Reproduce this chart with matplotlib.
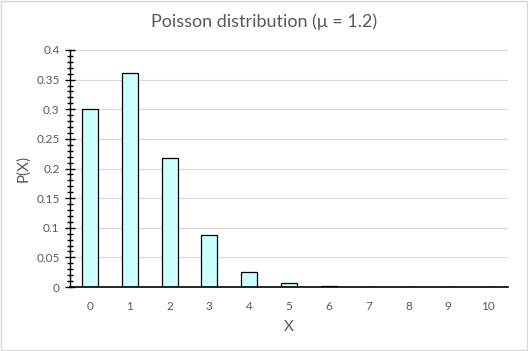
import matplotlib.pyplot as plt
from matplotlib.patches import Rectangle
from matplotlib.ticker import MultipleLocator, FuncFormatter

plt.rcParams["font.family"] = ["Lato", "DejaVu Sans"]

x_values = list(range(11))
probs = [0.301, 0.361, 0.217, 0.087, 0.026, 0.0062, 0.0012, 0.0002, 0.00003, 0.000004, 0.0000005]
title = "Poisson distribution (\u03bc = 1.2)"

GRAY = "#595959"

fig = plt.figure(figsize=(5.28, 3.51), dpi=100)
ax = fig.add_axes([70 / 528, 1 - 287 / 351, 438 / 528, 237 / 351])

ax.bar(x_values, probs, width=0.4, color="#CCFFFF", edgecolor="black", linewidth=0.9, zorder=3)

ax.set_xlim(-0.5, 10.5)
ax.set_ylim(0, 0.4)
ax.yaxis.set_major_locator(MultipleLocator(0.05))
ax.yaxis.set_minor_locator(MultipleLocator(0.01))
ax.yaxis.set_major_formatter(FuncFormatter(lambda v, pos: f"{v:.2f}".rstrip("0").rstrip(".")))
ax.set_xticks(x_values)
ax.grid(axis="y", color="#D9D9D9", linewidth=0.8, zorder=0)

for side in ["top", "right"]:
	ax.spines[side].set_visible(False)
ax.spines["left"].set_linewidth(1.0)
ax.spines["bottom"].set_linewidth(1.2)
ax.spines["left"].set_zorder(4)
ax.spines["bottom"].set_zorder(4)

ax.tick_params(axis="y", which="major", direction="inout", length=7, width=1, color="black",
			   labelsize=8.5, labelcolor=GRAY, pad=4)
ax.tick_params(axis="y", which="minor", direction="inout", length=5, width=1, color="black")
ax.tick_params(axis="x", length=0, labelsize=8.5, labelcolor=GRAY, pad=10)

ax.set_xlabel("X", fontsize=11, color=GRAY, labelpad=6)
ax.set_ylabel("P(X)", fontsize=11, color=GRAY, labelpad=4)
fig.text(0.5, 1 - 22 / 351, title, ha="center", va="center", fontsize=13, color=GRAY)

fig.patches.append(Rectangle((1 / 528, 1 / 351), 526 / 528, 349 / 351, transform=fig.transFigure,
							 fill=False, edgecolor="#D9D9D9", linewidth=1.0))

fig.savefig("out.png", dpi=100)
